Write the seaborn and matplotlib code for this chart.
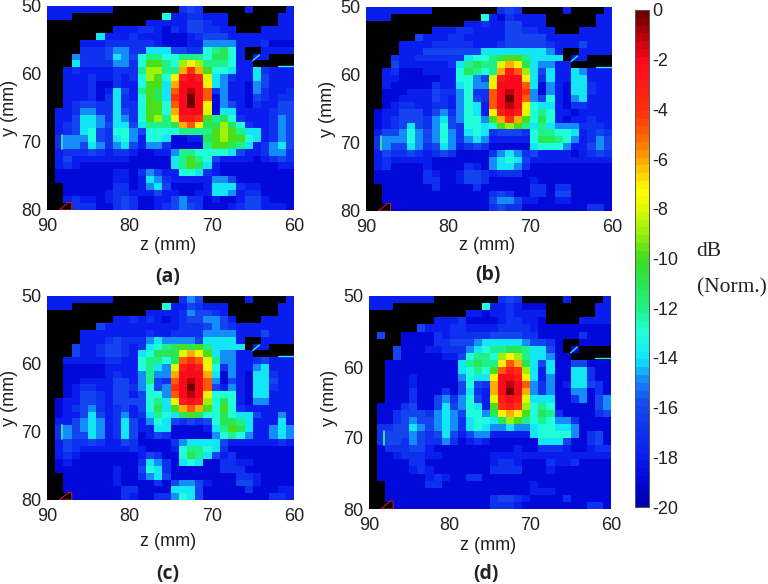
import numpy as np
import pandas as pd
import matplotlib
matplotlib.use('Agg')
import matplotlib.pyplot as plt
import seaborn as sns
from matplotlib.colors import LinearSegmentedColormap

# cells are 1 mm x 1 mm, dB values read by eye from the picture
z_labels = [90, 80, 70, 60]
y_labels = [50, 60, 70, 80]
cbar_ticks = [0, -2, -4, -6, -8, -10, -12, -14, -16, -18, -20]
panel_names = ['(a)', '(b)', '(c)', '(d)']

# black = no data, same shape in all four panels
no_data = [
    "........########...#####.####.",
    "...###########........######..",
    "############..........######..",
    "########..............####....",
    "######........................",
    "####..........................",
    "####....................##....",
    "###.....................#.####",
    "###......................#####",
    "##............................",
    "##............................",
    "##............................",
    "##............................",
    "##............................",
    "##............................",
    "#.............................",
    "#.............................",
    "#.............................",
    "#.............................",
    "#.............................",
    "#.............................",
    "#.............................",
    "#.............................",
    "#.............................",
    "#.............................",
    "#.............................",
    "##............................",
    "##............................",
    "##............................",
    "###...........................",
]

panel_a = [
    [-18,-18,-18,-18,-18, -18,-18,-18,-19,-19, -19,-19,-19,-19,-19, -19,-17,-16,-17,-19, -19,-19,-19,-19,-18, -19,-19,-19,-19,-18],
    [-18,-18,-18,-19,-19, -19,-19,-19,-19,-19, -19,-19,-19,-19,-13, -18,-18,-17,-17,-18, -18,-18,-19,-19,-19, -19,-19,-19,-18,-18],
    [-19,-19,-19,-19,-19, -19,-19,-19,-19,-19, -19,-19,-18,-18,-18, -18,-18,-16,-16,-17, -18,-18,-19,-19,-19, -19,-19,-19,-18,-18],
    [-19,-19,-19,-19,-19, -19,-19,-19,-18,-18, -18,-17,-17,-18,-19, -17,-18,-16,-16,-17, -17,-18,-18,-19,-19, -19,-18,-18,-18,-18],
    [-19,-19,-19,-19,-19, -19,-14,-18,-18,-18, -17,-18,-18,-18,-19, -19,-19,-18,-17,-16, -16,-16,-18,-18,-18, -18,-18,-18,-18,-18],
    [-19,-19,-19,-19,-18, -18,-18,-17,-17,-17, -17,-17,-17,-18,-19, -19,-19,-18,-18,-15, -15,-15,-15,-18,-18, -18,-17,-19,-19,-19],
    [-19,-19,-19,-19,-17, -17,-17,-16,-15,-15, -17,-17,-14,-14,-14, -16,-16,-17,-17,-13, -12,-11,-13,-18,-19, -19,-18,-18,-18,-18],
    [-19,-19,-19,-15,-17, -17,-17,-16,-14,-15, -16,-13,-12,-12,-13, -13,-12,-12,-12,-13, -11,-11,-13,-18,-19, -18,-18,-19,-19,-19],
    [-19,-19,-19,-14,-17, -17,-17,-17,-15,-15, -17,-13,-10,-10,-12, -13,-9,-7,-9,-12, -12,-12,-13,-18,-18, -19,-19,-19,-19,-19],
    [-19,-19,-18,-17,-18, -18,-18,-18,-17,-17, -17,-12,-9,-9,-12, -12,-6,-4,-6,-10, -13,-13,-14,-18,-18, -14,-17,-18,-18,-18],
    [-19,-19,-18,-18,-18, -17,-18,-18,-17,-18, -17,-13,-9,-10,-13, -7,-3,-2,-3,-8, -14,-15,-17,-18,-18, -14,-16,-18,-18,-18],
    [-19,-19,-18,-18,-18, -17,-19,-19,-17,-18, -18,-13,-10,-10,-14, -6,-2,-2,-2,-7, -14,-15,-18,-18,-19, -15,-16,-18,-18,-18],
    [-19,-19,-18,-18,-18, -17,-19,-18,-14,-16, -18,-12,-10,-11,-14, -5,-2,-1,-2,-5, -17,-15,-18,-18,-19, -15,-17,-18,-18,-17],
    [-19,-19,-18,-18,-18, -17,-19,-17,-14,-17, -18,-13,-10,-11,-14, -4,-2,0,-2,-5, -19,-15,-18,-18,-19, -16,-17,-18,-17,-17],
    [-19,-19,-18,-17,-16, -16,-17,-17,-14,-17, -17,-13,-10,-10,-13, -5,-2,0,-2,-7, -19,-15,-16,-18,-19, -17,-18,-18,-16,-16],
    [-19,-18,-18,-17,-15, -15,-17,-17,-14,-16, -17,-13,-10,-10,-13, -6,-2,-2,-2,-8, -19,-14,-14,-18,-18, -18,-18,-17,-16,-16],
    [-19,-18,-18,-16,-14, -14,-15,-17,-14,-15, -17,-13,-10,-9,-12, -7,-3,-3,-4,-10, -12,-11,-13,-17,-18, -18,-18,-17,-15,-16],
    [-19,-18,-17,-16,-14, -14,-15,-16,-14,-14, -16,-14,-12,-12,-12, -11,-6,-5,-7,-11, -11,-9,-11,-13,-17, -18,-18,-17,-15,-16],
    [-19,-18,-17,-16,-14, -13,-16,-17,-13,-13, -15,-16,-13,-13,-13, -13,-12,-12,-12,-12, -10,-9,-10,-12,-14, -14,-18,-17,-15,-16],
    [-19,-17,-15,-15,-15, -13,-16,-17,-14,-13, -15,-18,-13,-13,-14, -19,-19,-18,-18,-11, -10,-9,-10,-10,-13, -14,-18,-17,-15,-16],
    [-19,-17,-15,-15,-16, -14,-15,-17,-15,-14, -16,-18,-15,-15,-17, -19,-19,-19,-19,-12, -10,-10,-11,-12,-14, -18,-17,-15,-14,-16],
    [-19,-18,-17,-17,-17, -16,-17,-18,-17,-17, -18,-19,-19,-18,-18, -15,-12,-12,-13,-13, -13,-13,-14,-16,-18, -18,-17,-15,-15,-17],
    [-19,-18,-16,-18,-18, -18,-18,-18,-18,-18, -19,-19,-19,-19,-19, -14,-12,-10,-12,-13, -16,-18,-18,-18,-18, -19,-18,-17,-16,-17],
    [-19,-18,-17,-18,-19, -19,-19,-19,-19,-19, -19,-19,-19,-19,-19, -14,-12,-10,-11,-14, -18,-19,-19,-19,-19, -19,-19,-19,-18,-18],
    [-19,-19,-19,-19,-19, -19,-19,-19,-18,-18, -19,-17,-15,-16,-18, -18,-13,-13,-14,-17, -18,-19,-19,-19,-19, -19,-19,-19,-19,-19],
    [-19,-19,-19,-19,-19, -19,-19,-19,-18,-18, -19,-18,-14,-15,-17, -18,-18,-18,-18,-18, -15,-15,-16,-19,-19, -19,-19,-19,-19,-19],
    [-19,-19,-19,-19,-19, -19,-19,-19,-17,-17, -19,-18,-15,-14,-16, -19,-19,-19,-19,-18, -14,-14,-14,-17,-18, -18,-19,-19,-19,-19],
    [-19,-19,-19,-19,-19, -19,-19,-18,-17,-17, -18,-18,-18,-16,-18, -18,-19,-19,-18,-18, -14,-14,-15,-18,-17, -17,-19,-19,-19,-19],
    [-19,-19,-18,-17,-18, -18,-19,-18,-17,-16, -17,-19,-19,-18,-18, -16,-15,-17,-17,-19, -18,-19,-19,-18,-16, -16,-18,-19,-19,-19],
    [-19,-19,-19,-17,-17, -17,-19,-19,-17,-16, -17,-19,-19,-18,-17, -16,-15,-16,-17,-19, -19,-19,-18,-17,-16, -16,-18,-18,-18,-19],
]

panel_b = [
    [-18,-18,-18,-18,-18, -18,-18,-18,-19,-19, -19,-19,-19,-19,-19, -19,-17,-16,-17,-19, -19,-19,-19,-19,-18, -19,-19,-19,-19,-18],
    [-18,-18,-18,-19,-19, -19,-19,-19,-19,-19, -19,-19,-19,-19,-13, -18,-19,-17,-18,-18, -18,-18,-19,-19,-19, -19,-19,-19,-18,-18],
    [-19,-19,-19,-19,-19, -19,-19,-19,-19,-19, -19,-19,-18,-18,-17, -18,-18,-16,-16,-18, -18,-18,-19,-19,-19, -19,-19,-19,-18,-18],
    [-19,-19,-19,-19,-19, -19,-19,-19,-18,-18, -18,-17,-17,-18,-18, -18,-18,-16,-16,-17, -17,-18,-18,-19,-19, -19,-18,-18,-18,-18],
    [-19,-19,-19,-19,-19, -19,-16,-18,-18,-18, -17,-17,-18,-18,-18, -18,-18,-16,-16,-16, -16,-16,-18,-18,-18, -18,-18,-18,-18,-18],
    [-19,-19,-19,-19,-18, -18,-18,-18,-17,-17, -17,-17,-17,-18,-18, -18,-17,-16,-16,-16, -16,-16,-17,-18,-18, -18,-16,-18,-18,-18],
    [-19,-19,-19,-19,-18, -18,-18,-16,-16,-16, -16,-16,-16,-16,-14, -14,-14,-14,-14,-14, -14,-14,-15,-18,-19, -19,-18,-18,-18,-18],
    [-19,-19,-19,-17,-18, -18,-17,-17,-17,-17, -17,-17,-14,-13,-13, -12,-11,-10,-10,-12, -14,-14,-14,-14,-19, -18,-18,-19,-19,-19],
    [-19,-19,-19,-16,-18, -18,-18,-18,-18,-18, -17,-14,-12,-11,-12, -12,-8,-6,-7,-11, -14,-15,-15,-18,-18, -19,-19,-19,-19,-19],
    [-19,-19,-18,-17,-19, -19,-19,-18,-18,-18, -18,-13,-11,-12,-13, -12,-6,-3,-5,-9, -14,-16,-14,-18,-18, -14,-15,-18,-18,-18],
    [-19,-19,-18,-18,-19, -19,-19,-19,-19,-18, -18,-13,-13,-15,-16, -8,-3,-2,-2,-7, -14,-17,-14,-18,-18, -14,-14,-18,-18,-18],
    [-19,-19,-18,-19,-19, -19,-19,-19,-17,-18, -18,-14,-13,-15,-15, -7,-2,-2,-2,-5, -14,-19,-15,-18,-19, -14,-14,-17,-18,-18],
    [-19,-19,-19,-19,-19, -18,-18,-18,-16,-17, -17,-15,-13,-17,-17, -5,-2,-1,-2,-4, -15,-19,-15,-18,-19, -14,-14,-17,-18,-18],
    [-19,-19,-19,-19,-18, -18,-18,-18,-16,-17, -18,-15,-13,-16,-17, -5,-2,0,-2,-5, -15,-16,-13,-18,-19, -15,-14,-18,-18,-18],
    [-19,-19,-19,-18,-17, -17,-18,-18,-17,-17, -18,-15,-13,-14,-18, -5,-2,-1,-2,-7, -13,-14,-14,-18,-19, -17,-17,-18,-18,-18],
    [-19,-19,-18,-18,-16, -16,-16,-18,-16,-15, -17,-15,-13,-14,-18, -7,-3,-2,-3,-8, -13,-12,-13,-18,-18, -19,-18,-18,-18,-18],
    [-19,-19,-18,-17,-16, -16,-16,-17,-15,-14, -16,-15,-13,-13,-15, -10,-6,-4,-6,-10, -13,-11,-13,-18,-19, -18,-18,-17,-18,-18],
    [-19,-19,-18,-17,-16, -14,-16,-17,-15,-13, -16,-17,-13,-13,-14, -13,-10,-9,-10,-12, -14,-12,-14,-15,-15, -15,-17,-17,-17,-18],
    [-19,-18,-16,-16,-15, -13,-15,-16,-15,-13, -15,-17,-14,-13,-14, -17,-16,-16,-16,-17, -13,-12,-12,-13,-13, -14,-18,-17,-16,-17],
    [-19,-17,-15,-15,-15, -13,-15,-16,-15,-13, -15,-17,-15,-14,-15, -18,-18,-18,-18,-18, -13,-11,-11,-12,-13, -15,-18,-17,-15,-16],
    [-19,-17,-15,-16,-16, -14,-15,-17,-16,-14, -15,-18,-17,-16,-17, -19,-19,-19,-19,-19, -14,-13,-13,-13,-15, -18,-18,-16,-15,-16],
    [-19,-18,-16,-17,-17, -16,-17,-18,-17,-16, -17,-19,-19,-19,-19, -17,-15,-14,-15,-17, -16,-18,-18,-18,-18, -19,-18,-17,-16,-17],
    [-19,-18,-17,-18,-18, -18,-18,-18,-19,-19, -19,-19,-19,-19,-19, -15,-14,-13,-14,-16, -18,-18,-18,-18,-18, -18,-18,-18,-18,-18],
    [-19,-18,-17,-19,-19, -19,-19,-18,-19,-19, -19,-19,-17,-18,-19, -15,-14,-14,-15,-17, -19,-19,-19,-19,-19, -19,-19,-19,-19,-19],
    [-19,-19,-19,-19,-19, -19,-19,-17,-18,-19, -19,-18,-16,-16,-17, -18,-17,-17,-17,-19, -19,-19,-19,-19,-19, -19,-19,-19,-19,-19],
    [-19,-19,-19,-19,-19, -19,-19,-17,-17,-19, -19,-18,-16,-16,-17, -19,-19,-19,-19,-19, -18,-19,-19,-19,-19, -19,-19,-19,-19,-19],
    [-19,-19,-19,-19,-19, -19,-19,-19,-17,-19, -19,-19,-19,-17,-19, -19,-19,-19,-19,-19, -17,-17,-19,-17,-17, -19,-19,-19,-19,-19],
    [-19,-19,-19,-19,-19, -19,-19,-19,-19,-19, -19,-19,-19,-19,-19, -17,-16,-17,-19,-19, -17,-17,-19,-16,-16, -19,-19,-19,-19,-19],
    [-19,-19,-19,-19,-19, -19,-19,-19,-19,-19, -19,-19,-19,-19,-19, -16,-15,-15,-16,-18, -18,-19,-19,-18,-18, -19,-19,-19,-19,-19],
    [-19,-19,-19,-19,-19, -19,-19,-19,-19,-19, -19,-19,-19,-19,-19, -17,-16,-17,-17,-19, -19,-19,-19,-19,-19, -19,-19,-17,-17,-19],
]

panel_c = [
    [-18,-18,-18,-18,-18, -18,-18,-18,-19,-19, -19,-19,-19,-19,-19, -19,-17,-15,-16,-19, -19,-19,-19,-19,-18, -19,-19,-19,-19,-18],
    [-18,-18,-18,-19,-19, -19,-19,-19,-19,-19, -19,-19,-19,-19,-13, -18,-18,-16,-17,-18, -18,-18,-19,-19,-19, -19,-19,-19,-18,-18],
    [-19,-19,-19,-19,-19, -19,-19,-19,-19,-19, -19,-19,-18,-18,-18, -18,-17,-15,-16,-16, -17,-18,-19,-19,-19, -19,-19,-19,-18,-18],
    [-19,-19,-19,-19,-19, -19,-19,-19,-18,-18, -17,-18,-17,-18,-19, -18,-17,-16,-16,-15, -15,-16,-18,-19,-19, -19,-18,-18,-18,-18],
    [-19,-19,-19,-19,-19, -19,-16,-18,-18,-18, -18,-18,-18,-18,-18, -18,-17,-17,-17,-16, -15,-16,-17,-18,-18, -18,-18,-18,-18,-18],
    [-19,-19,-19,-19,-18, -18,-18,-18,-18,-18, -18,-18,-17,-18,-18, -17,-17,-17,-17,-15, -15,-15,-15,-18,-18, -18,-16,-18,-18,-18],
    [-19,-19,-19,-19,-18, -18,-18,-17,-16,-17, -17,-17,-15,-14,-15, -15,-15,-15,-16,-14, -14,-14,-14,-18,-19, -19,-18,-18,-18,-18],
    [-19,-19,-19,-16,-18, -18,-17,-16,-16,-17, -18,-17,-14,-13,-12, -11,-10,-11,-10,-12, -14,-14,-14,-14,-19, -18,-18,-19,-19,-19],
    [-19,-19,-19,-16,-18, -18,-17,-16,-16,-17, -18,-14,-13,-11,-11, -11,-8,-6,-7,-10, -14,-15,-15,-18,-18, -19,-19,-19,-19,-19],
    [-19,-19,-18,-18,-18, -18,-18,-17,-17,-18, -18,-13,-12,-12,-13, -11,-5,-4,-5,-8, -12,-15,-15,-18,-18, -17,-16,-18,-18,-18],
    [-19,-19,-19,-19,-19, -19,-19,-18,-18,-18, -18,-13,-12,-14,-15, -8,-3,-2,-3,-7, -13,-17,-15,-18,-18, -15,-14,-18,-18,-18],
    [-19,-19,-19,-19,-19, -19,-19,-18,-17,-18, -18,-15,-12,-15,-15, -6,-2,-2,-2,-6, -14,-19,-15,-18,-19, -14,-14,-17,-18,-18],
    [-19,-19,-19,-19,-18, -18,-18,-18,-16,-16, -18,-15,-12,-16,-17, -5,-2,-1,-2,-5, -15,-19,-16,-18,-19, -14,-14,-16,-18,-18],
    [-19,-19,-19,-18,-17, -17,-18,-18,-16,-16, -17,-15,-13,-16,-15, -4,-2,0,-2,-5, -16,-18,-15,-18,-19, -14,-14,-17,-18,-18],
    [-19,-19,-19,-18,-16, -16,-17,-18,-16,-16, -18,-16,-13,-13,-15, -5,-2,-1,-2,-7, -13,-13,-13,-18,-19, -14,-14,-18,-18,-18],
    [-19,-19,-18,-18,-16, -16,-17,-18,-16,-16, -16,-16,-13,-12,-14, -7,-3,-2,-3,-9, -13,-11,-13,-18,-19, -15,-15,-18,-18,-18],
    [-19,-19,-18,-17,-16, -15,-17,-18,-17,-16, -18,-16,-13,-11,-14, -10,-6,-5,-6,-10, -13,-10,-13,-17,-18, -18,-18,-18,-18,-18],
    [-19,-19,-18,-18,-16, -14,-16,-18,-17,-15, -18,-17,-14,-12,-13, -14,-11,-10,-11,-13, -13,-11,-13,-14,-14, -16,-18,-18,-15,-18],
    [-19,-18,-18,-16,-15, -14,-15,-18,-17,-14, -16,-18,-15,-13,-14, -16,-17,-16,-17,-16, -13,-11,-11,-12,-14, -18,-18,-18,-14,-18],
    [-19,-17,-15,-16,-15, -14,-15,-18,-17,-14, -16,-18,-18,-14,-14, -19,-19,-19,-19,-18, -14,-12,-10,-11,-14, -18,-18,-15,-14,-15],
    [-19,-17,-15,-16,-16, -14,-15,-18,-17,-14, -16,-19,-18,-16,-17, -19,-19,-19,-19,-19, -15,-13,-12,-13,-15, -18,-18,-15,-14,-15],
    [-19,-18,-16,-17,-17, -16,-17,-18,-18,-16, -17,-19,-19,-19,-19, -17,-15,-14,-14,-14, -14,-16,-18,-18,-18, -18,-18,-18,-17,-18],
    [-19,-18,-16,-17,-18, -18,-18,-18,-18,-18, -17,-18,-19,-19,-19, -18,-13,-12,-12,-13, -14,-17,-19,-19,-19, -19,-19,-19,-19,-19],
    [-19,-18,-17,-18,-19, -19,-19,-19,-19,-19, -19,-18,-16,-17,-19, -19,-13,-11,-12,-14, -16,-18,-17,-19,-19, -19,-19,-19,-19,-19],
    [-19,-19,-18,-19,-19, -19,-19,-19,-19,-19, -19,-17,-14,-15,-17, -19,-14,-13,-14,-19, -19,-17,-17,-18,-18, -19,-19,-19,-19,-19],
    [-19,-19,-19,-19,-19, -19,-19,-19,-18,-19, -19,-16,-13,-14,-17, -19,-19,-19,-19,-19, -19,-17,-17,-17,-19, -19,-19,-19,-19,-19],
    [-19,-19,-19,-19,-19, -19,-19,-19,-18,-19, -19,-17,-15,-14,-16, -19,-19,-19,-19,-19, -19,-19,-19,-17,-17, -18,-19,-19,-19,-19],
    [-19,-19,-19,-19,-19, -19,-19,-19,-18,-19, -19,-19,-19,-17,-19, -16,-15,-15,-16,-18, -19,-19,-19,-16,-16, -18,-19,-19,-19,-19],
    [-19,-19,-19,-19,-19, -19,-19,-19,-19,-17, -17,-19,-19,-19,-19, -14,-14,-14,-16,-19, -19,-19,-19,-19,-17, -19,-19,-19,-18,-18],
    [-19,-19,-19,-19,-19, -19,-19,-19,-19,-17, -18,-19,-19,-17,-17, -15,-13,-14,-16,-19, -19,-19,-19,-19,-19, -19,-19,-17,-17,-18],
]

panel_d = [
    [-18,-18,-18,-18,-18, -18,-18,-18,-19,-19, -19,-19,-19,-19,-19, -19,-17,-16,-17,-19, -19,-19,-19,-19,-18, -19,-19,-19,-19,-18],
    [-18,-18,-18,-19,-19, -19,-19,-19,-19,-19, -19,-19,-19,-19,-13, -18,-18,-17,-18,-19, -19,-19,-19,-19,-19, -19,-19,-19,-18,-18],
    [-19,-19,-19,-19,-19, -19,-19,-19,-19,-19, -19,-19,-18,-18,-19, -18,-18,-17,-18,-18, -18,-18,-19,-19,-19, -19,-19,-19,-18,-18],
    [-19,-19,-19,-19,-19, -19,-19,-19,-18,-18, -18,-17,-19,-19,-19, -19,-18,-17,-17,-18, -18,-19,-19,-19,-19, -19,-18,-18,-18,-18],
    [-19,-19,-19,-19,-19, -19,-16,-18,-18,-18, -17,-17,-18,-18,-18, -18,-17,-17,-17,-17, -18,-19,-19,-19,-19, -19,-19,-19,-19,-19],
    [-19,-16,-19,-19,-19, -19,-19,-19,-17,-18, -17,-17,-17,-17,-17, -16,-16,-16,-16,-17, -17,-19,-19,-19,-19, -19,-17,-19,-19,-19],
    [-19,-19,-19,-19,-19, -19,-19,-19,-17,-17, -16,-16,-16,-15,-14, -14,-14,-14,-14,-15, -16,-16,-17,-19,-19, -19,-19,-19,-19,-19],
    [-19,-19,-19,-16,-19, -19,-19,-18,-18,-17, -17,-17,-15,-14,-13, -12,-12,-11,-11,-12, -14,-14,-16,-19,-19, -19,-19,-19,-19,-19],
    [-19,-19,-19,-16,-19, -19,-19,-19,-19,-18, -18,-16,-13,-12,-12, -13,-9,-7,-9,-12, -14,-14,-15,-19,-19, -19,-19,-19,-19,-19],
    [-19,-19,-19,-19,-19, -19,-19,-19,-19,-19, -19,-14,-12,-11,-12, -12,-7,-5,-6,-11, -14,-16,-14,-19,-19, -16,-16,-19,-19,-19],
    [-19,-19,-19,-19,-19, -19,-19,-19,-19,-19, -19,-14,-13,-12,-13, -10,-5,-3,-4,-9, -14,-18,-14,-19,-19, -14,-14,-17,-19,-19],
    [-19,-19,-19,-19,-19, -18,-19,-19,-19,-19, -19,-15,-13,-14,-14, -7,-2,-2,-3,-7, -14,-18,-15,-19,-19, -14,-14,-17,-19,-19],
    [-19,-19,-19,-19,-19, -18,-19,-19,-19,-19, -19,-16,-13,-16,-17, -6,-2,-1,-2,-5, -15,-17,-15,-19,-18, -14,-14,-16,-17,-19],
    [-19,-19,-19,-19,-19, -17,-19,-19,-19,-17, -19,-16,-14,-17,-18, -6,-2,0,-2,-6, -15,-17,-15,-19,-19, -15,-15,-19,-17,-19],
    [-19,-19,-19,-19,-19, -17,-19,-19,-16,-15, -17,-15,-13,-16,-18, -8,-3,-2,-3,-8, -14,-14,-14,-19,-19, -17,-15,-19,-16,-15],
    [-19,-19,-19,-19,-17, -16,-19,-19,-16,-14, -16,-15,-13,-14,-18, -10,-4,-3,-4,-9, -13,-12,-13,-19,-19, -19,-19,-19,-16,-15],
    [-19,-19,-19,-17,-16, -16,-16,-17,-15,-14, -15,-16,-13,-13,-15, -11,-7,-6,-7,-10, -13,-11,-12,-17,-19, -19,-19,-19,-17,-16],
    [-19,-19,-19,-17,-16, -15,-16,-16,-15,-14, -15,-17,-14,-13,-13, -14,-11,-9,-10,-12, -13,-12,-13,-15,-15, -17,-19,-19,-19,-19],
    [-19,-17,-17,-16,-16, -14,-15,-16,-15,-14, -15,-17,-14,-13,-14, -15,-15,-14,-15,-15, -14,-13,-13,-14,-14, -15,-19,-19,-19,-19],
    [-19,-17,-16,-16,-16, -15,-16,-17,-16,-14, -16,-18,-16,-15,-15, -18,-18,-18,-18,-18, -14,-13,-13,-13,-13, -15,-19,-17,-16,-19],
    [-19,-17,-16,-16,-17, -15,-16,-17,-17,-15, -17,-19,-18,-17,-18, -19,-19,-19,-19,-19, -19,-14,-14,-14,-16, -19,-19,-17,-16,-19],
    [-19,-19,-17,-17,-17, -16,-16,-18,-19,-19, -19,-19,-19,-19,-19, -19,-19,-19,-18,-19, -19,-17,-17,-17,-18, -19,-19,-18,-17,-17],
    [-19,-19,-19,-18,-17, -17,-17,-18,-18,-19, -19,-19,-19,-19,-19, -18,-18,-18,-18,-18, -18,-18,-18,-18,-18, -18,-18,-18,-18,-18],
    [-19,-19,-19,-19,-19, -17,-17,-19,-19,-19, -19,-19,-19,-19,-19, -18,-17,-17,-18,-19, -19,-19,-17,-18,-18, -17,-19,-19,-19,-19],
    [-19,-19,-19,-19,-19, -18,-17,-18,-19,-19, -19,-19,-19,-19,-19, -17,-17,-17,-17,-19, -19,-19,-18,-19,-19, -19,-19,-19,-19,-19],
    [-19,-19,-19,-19,-19, -19,-19,-18,-17,-18, -19,-19,-17,-17,-19, -19,-19,-19,-19,-19, -19,-19,-19,-19,-19, -19,-19,-19,-19,-19],
    [-19,-19,-19,-19,-19, -19,-19,-17,-17,-19, -19,-19,-19,-19,-19, -19,-19,-19,-19,-19, -18,-19,-19,-19,-19, -19,-19,-19,-19,-19],
    [-19,-19,-19,-19,-19, -19,-19,-19,-19,-19, -19,-19,-19,-19,-19, -19,-19,-19,-19,-19, -18,-18,-18,-19,-19, -19,-19,-19,-19,-19],
    [-19,-19,-19,-19,-19, -19,-19,-19,-19,-19, -19,-19,-19,-19,-19, -17,-16,-16,-17,-18, -19,-19,-19,-19,-17, -19,-19,-19,-19,-19],
    [-19,-19,-19,-19,-19, -19,-19,-19,-19,-19, -19,-19,-19,-19,-19, -17,-17,-17,-18,-19, -19,-19,-19,-19,-19, -19,-19,-17,-17,-19],
]

# little outlined corner and the thin cyan slivers
corner_z = [88.5, 87.4, 87.0, 87.0]
corner_y = [80.0, 78.9, 78.9, 80.0]
sliver_z = [65.0, 64.2]
sliver_y = [58.0, 57.2]
edge_z = [62.0, 60.0]
edge_y = [58.8, 58.8]
left_z = [88.2, 88.2]
left_y = [69.0, 71.0]

# colorbar is not quite matlab jet, so anchor points read off it
cbar_levels = [-20, -19, -18, -16, -15, -14.2, -13, -12, -11, -10, -9, -8, -7.2, -6, -5, -4, -2, -1, 0]
cbar_colors = ['#0000b4', '#0008dc', '#0a20f0', '#1448f0', '#1484fa', '#10e0ff', '#20ffd8', '#1ef084', '#28e650',
               '#3cdc1e', '#96f00a', '#dcfa00', '#ffff00', '#ffaa00', '#ff6400', '#ff320a', '#ff0a1e', '#be000a', '#6e0000']
cmap = LinearSegmentedColormap.from_list(
    'db', [((l + 20) / 20, c) for l, c in zip(cbar_levels, cbar_colors)], N=64)
cmap.set_bad('black')

sns.set_style('white')
plt.rcParams['font.family'] = ['Liberation Sans', 'DejaVu Sans']

W, H = 768, 584
fig = plt.figure(figsize=(W / 100, H / 100), dpi=100)

def box(x0, y0, x1, y1):
    return [x0 / W, 1 - y1 / H, (x1 - x0) / W, (y1 - y0) / H]

panels = [panel_a, panel_b, panel_c, panel_d]
boxes = [(47, 6, 294, 210), (366, 7, 612, 211), (47, 296, 294, 500), (369, 296, 611, 509)]
letter_pos = [(168, 277), (488, 275), (168, 574), (486, 574)]
zlabel_pos = [(168, 246), (487, 246), (168, 542), (488, 546)]
ylabel_x = [10, 327, 10, 330]
black = np.array([[ch == '#' for ch in row] for row in no_data])
txt = '#222222'

for i, vals in enumerate(panels):
    ax = fig.add_axes(box(*boxes[i]))
    vals = np.array(vals, dtype=float)
    # a cell inside the black area only stays black if nothing was seen there
    hide = black & (vals == -19)
    df = pd.DataFrame(vals)
    sns.heatmap(df, ax=ax, cmap=cmap, vmin=-20, vmax=0, mask=hide, cbar=False,
                xticklabels=False, yticklabels=False)
    ax.set_facecolor('black')
    ax.fill([90 - v for v in corner_z], [v - 50 for v in corner_y], facecolor='black', edgecolor='#d01818', lw=0.8)
    ax.plot([90 - v for v in sliver_z], [v - 50 for v in sliver_y], color='#30e8ff', lw=1)
    ax.plot([90 - v for v in edge_z], [v - 50 for v in edge_y], color='#30e8ff', lw=1)
    ax.plot([90 - v for v in left_z], [v - 50 for v in left_y], color='#50f090', lw=1.2)
    ax.set_xticks([90 - v for v in z_labels])
    ax.set_xticklabels(z_labels, fontsize=13, rotation=0, color=txt)
    ax.set_yticks([v - 50 for v in y_labels])
    ax.set_yticklabels(y_labels, fontsize=13, rotation=0, color=txt)
    ax.tick_params(axis='x', length=0, pad=6)
    ax.tick_params(axis='y', length=0, pad=4)
    if i < 2:
        ax.set_xticks(range(31), minor=True)
        ax.tick_params(which='minor', direction='in', color='white', length=1.5, width=1, bottom=True)
    fig.text(zlabel_pos[i][0] / W, 1 - zlabel_pos[i][1] / H, 'z (mm)', fontsize=13, ha='center', va='center', color=txt)
    fig.text(ylabel_x[i] / W, 1 - (boxes[i][1] + 102) / H, 'y (mm)', fontsize=13, rotation=90, ha='center', va='center', color=txt)
    fig.text(letter_pos[i][0] / W, 1 - letter_pos[i][1] / H, panel_names[i], fontsize=14, fontweight='bold',
             family=['Open Sans', 'DejaVu Sans'], ha='center', va='center', color=txt)

# colorbar
cax = fig.add_axes(box(635, 10, 649, 507))
sm = plt.cm.ScalarMappable(cmap=cmap, norm=plt.Normalize(-20, 0))
cb = fig.colorbar(sm, cax=cax, ticks=cbar_ticks)
cb.ax.set_yticklabels([str(t) for t in cbar_ticks], fontsize=13, color=txt)
cb.ax.tick_params(direction='in', length=3, width=0.8, left=True, right=True, pad=2, colors=txt)
cb.outline.set_linewidth(0.7)
cb.outline.set_edgecolor('#555555')

fig.text(709 / W, 1 - 252 / H, 'dB', fontsize=15.5, family=['Liberation Serif'], ha='center', va='center', color=txt)
fig.text(732 / W, 1 - 288 / H, '(Norm.)', fontsize=15.5, family=['Liberation Serif'], ha='center', va='center', color=txt)

fig.savefig('out.png', dpi=100)
